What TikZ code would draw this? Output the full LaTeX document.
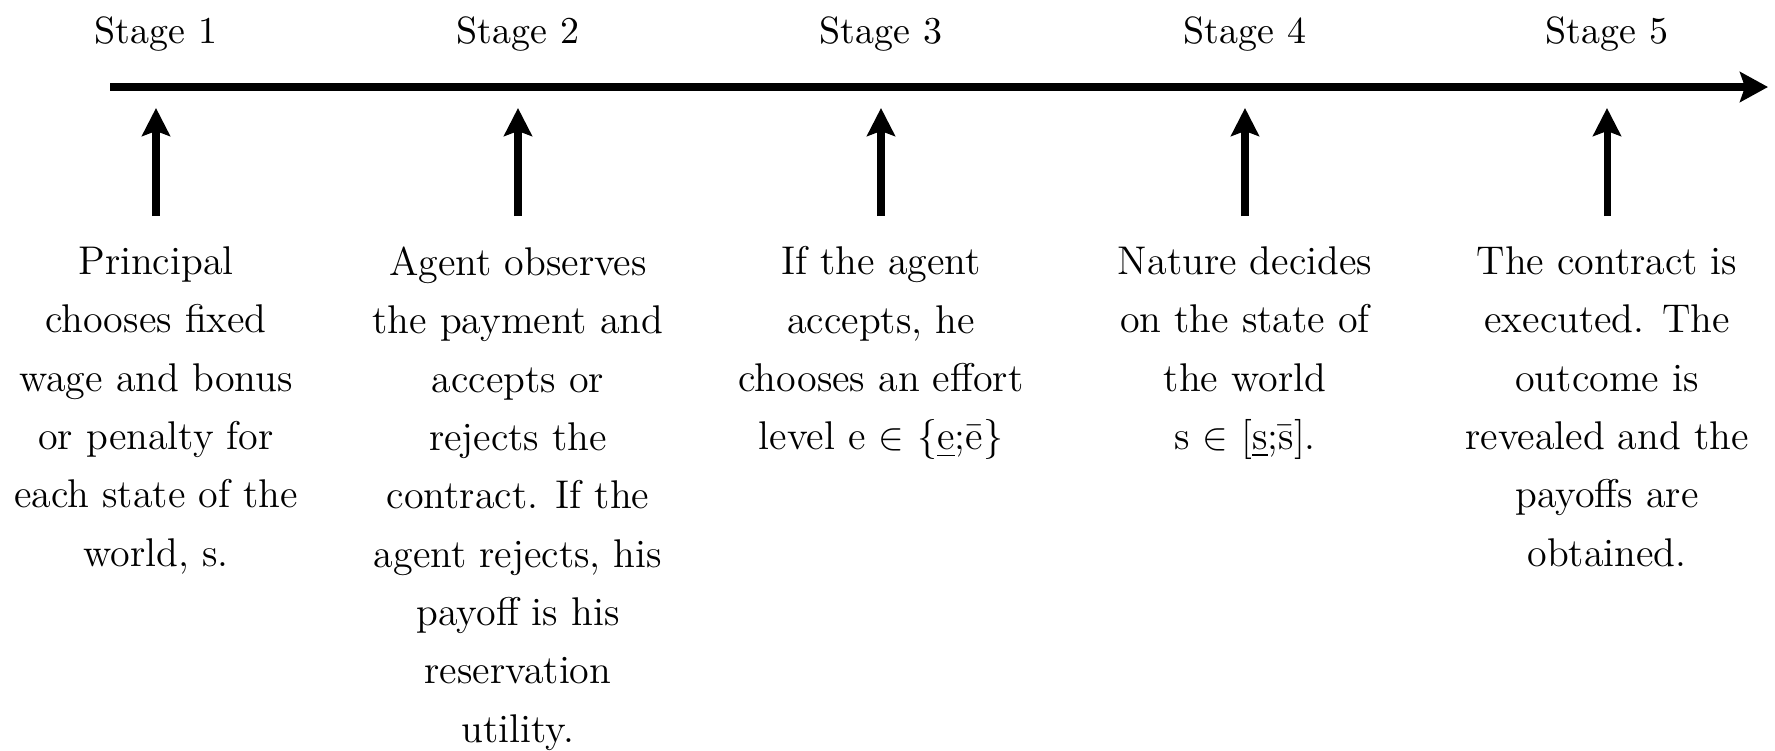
\documentclass[tikz,border=0pt]{standalone}
\usetikzlibrary{arrows.meta}

\begin{document}
\begin{tikzpicture}[
	stage/.style={font=\fontsize{10.8}{13.2}\selectfont, inner sep=0pt, anchor=base},
	event/.style={font=\fontsize{11.4}{16.6}\selectfont, align=center, anchor=north, inner sep=0pt},
	timeline/.style={line width=2pt, -{Stealth[length=0.28cm, width=0.3cm, inset=0.05cm]}},
	tick/.style={line width=2pt, -{Stealth[length=0.28cm, width=0.28cm, inset=0.05cm]}, shorten <=0.3cm, shorten >=0.21cm}
	]
			%%%%% START %%%%%
			
			\useasboundingbox (0, 0) rectangle (17.75, -7.5);
			
			\coordinate (start) at (1.10, -0.87);
			\coordinate (end) at (17.68, -0.87);
			\draw[timeline] (start) -- (end);
			
			\coordinate (t1) at (1.56, -0.87);
			\coordinate (t2) at (5.18, -0.87);
			\coordinate (t3) at (8.81, -0.87);
			\coordinate (t4) at (12.45, -0.87);
			\coordinate (t5) at (16.07, -0.87);
			
			\node[stage] (s1) at (1.56, -0.43) {Stage 1};
			\node[stage] (s2) at (5.18, -0.43) {Stage 2};
			\node[stage] (s3) at (8.81, -0.43) {Stage 3};
			\node[stage] (s4) at (12.45, -0.43) {Stage 4};
			\node[stage] (s5) at (16.07, -0.43) {Stage 5};
			
			\node[event] (d1) at (1.56, -2.46) {Principal\\chooses fixed\\wage and bonus\\or penalty for\\each state of the\\world, s.};
			\node[event] (d2) at (5.18, -2.46) {Agent observes\\the payment and\\accepts or\\rejects the\\contract. If the\\agent rejects, his\\payoff is his\\reservation\\utility.};
			\node[event] (d3) at (8.81, -2.46) {If the agent\\accepts, he\\chooses an effort\\level e $\in$ \{\underline{e};\={e}\}};
			\node[event] (d4) at (12.45, -2.46) {Nature decides\\on the state of\\the world\\s $\in$ [\underline{s};\={s}].};
			\node[event] (d5) at (16.07, -2.46) {The contract is\\executed. The\\outcome is\\revealed and the\\payoffs are\\obtained.};
			
			\draw[tick] (d1) -- (t1);
			\draw[tick] (d2) -- (t2);
			\draw[tick] (d3) -- (t3);
			\draw[tick] (d4) -- (t4);
			\draw[tick] (d5) -- (t5);
			
			%%%%% END %%%%%
		\end{tikzpicture}
\end{document}
